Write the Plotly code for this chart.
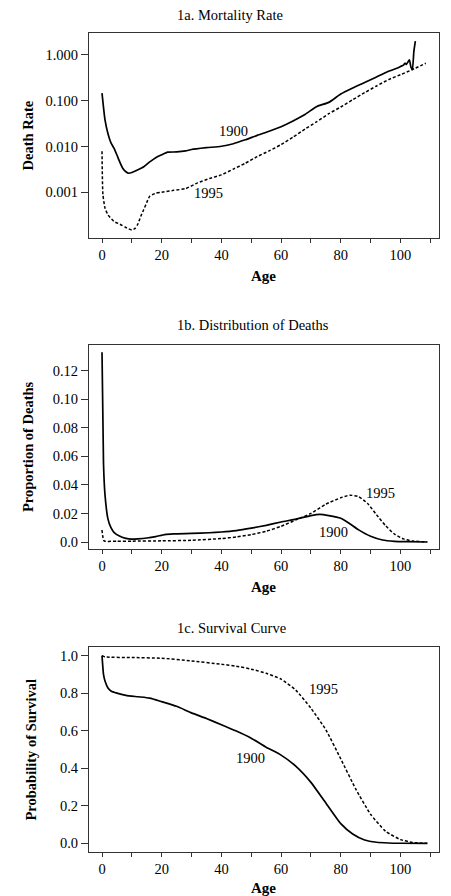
import plotly.graph_objects as go

# ---- 1a. Mortality rate (death rate by age) ----
mort_age_1900 = [0, 1, 2, 3, 4, 5, 6, 7, 8, 9, 10, 12, 14, 16, 18, 20, 22, 25, 28, 30, 35, 40,
                 44, 48, 52, 56, 60, 64, 68, 72, 76, 80, 84, 88, 92, 96, 99, 100, 101, 101.5,
                 102, 102.5, 103, 103.5, 104, 104.5, 105]
mort_rate_1900 = [0.146, 0.038, 0.019, 0.012, 0.0092, 0.0065, 0.0045, 0.0033, 0.0028, 0.0026,
                  0.0027, 0.0031, 0.0036, 0.0046, 0.0057, 0.0066, 0.0075, 0.0076, 0.0080, 0.0086,
                  0.0094, 0.0101, 0.0115, 0.0140, 0.0175, 0.0215, 0.027, 0.036, 0.050, 0.075,
                  0.092, 0.14, 0.19, 0.25, 0.33, 0.44, 0.52, 0.56, 0.60, 0.66, 0.62, 0.70, 0.78,
                  0.55, 0.48, 1.2, 2.0]
mort_age_1995 = [0, 0.3, 1, 2, 4, 6, 8, 10, 11, 12, 13, 14, 15, 16, 18, 20, 24, 28, 32, 36, 40,
                 44, 48, 52, 56, 60, 64, 68, 72, 76, 80, 84, 88, 92, 96, 100, 104, 108.5]
mort_rate_1995 = [0.0079, 0.0009, 0.00045, 0.00032, 0.00023, 0.0002, 0.00017, 0.00015, 0.00016,
                  0.0002, 0.0003, 0.00042, 0.0006, 0.00082, 0.00095, 0.001, 0.0011, 0.0012,
                  0.0016, 0.0020, 0.0024, 0.0032, 0.0043, 0.0060, 0.0080, 0.0110, 0.016, 0.024,
                  0.035, 0.052, 0.073, 0.105, 0.15, 0.21, 0.29, 0.37, 0.48, 0.66]

# ---- 1b. Distribution of deaths ----
dist_age_1900 = [0, 0.5, 1, 2, 3, 4, 6, 8, 10, 12, 15, 18, 21, 24, 30, 36, 40, 45, 50, 55, 60,
                 65, 70, 73, 76, 80, 83, 86, 90, 94, 98, 102, 109]
dist_val_1900 = [0.133, 0.055, 0.033, 0.016, 0.010, 0.0068, 0.004, 0.0025, 0.002, 0.0022, 0.0028,
                 0.0038, 0.0052, 0.0057, 0.0060, 0.0065, 0.0070, 0.0080, 0.0097, 0.0117, 0.0140,
                 0.0160, 0.0185, 0.0193, 0.0185, 0.0166, 0.0128, 0.0085, 0.0040, 0.0014, 0.0005,
                 0.0002, 0.0]
dist_age_1995 = [0, 0.7, 5, 10, 20, 30, 40, 45, 50, 55, 60, 65, 70, 75, 80, 83, 86, 89, 92, 95,
                 98, 101, 104, 109]
dist_val_1995 = [0.0084, 0.0008, 0.0006, 0.0006, 0.0008, 0.0012, 0.0024, 0.0035, 0.0052, 0.0075,
                 0.0110, 0.0155, 0.0200, 0.0265, 0.0310, 0.0328, 0.0318, 0.0270, 0.0190, 0.0115,
                 0.0055, 0.0022, 0.0007, 0.0]

# ---- 1c. Survival curve ----
surv_age_1900 = [0, 0.5, 1, 2, 3, 5, 8, 12, 16, 20, 25, 30, 35, 40, 45, 50, 55, 60, 65, 70, 75,
                 80, 84, 88, 92, 96, 100, 109]
surv_val_1900 = [1.0, 0.90, 0.865, 0.828, 0.812, 0.800, 0.788, 0.781, 0.774, 0.755, 0.73, 0.695,
                 0.665, 0.632, 0.598, 0.56, 0.512, 0.47, 0.41, 0.325, 0.215, 0.105, 0.05, 0.018,
                 0.006, 0.002, 0.0005, 0.0]
surv_age_1995 = [0, 1, 10, 20, 30, 40, 45, 50, 55, 60, 65, 70, 75, 80, 85, 90, 95, 100, 104, 109]
surv_val_1995 = [1.0, 0.993, 0.99, 0.986, 0.972, 0.954, 0.944, 0.928, 0.906, 0.875, 0.815, 0.72,
                 0.605, 0.45, 0.29, 0.155, 0.065, 0.02, 0.005, 0.0]

panel_titles = ["1a. Mortality Rate", "1b. Distribution of Deaths", "1c. Survival Curve"]
y_titles = ["Death Rate", "Proportion of Deaths", "Probability of Survival"]
x_tick_vals = [0, 20, 40, 60, 80, 100]

W, H = 451, 896
FONT = "Liberation Serif, Times New Roman, serif"
FS = 14.5

# panel boxes in pixels: (left, right, top, bottom)
boxes = [(89, 438.5, 33, 238), (89, 438.5, 345, 549), (89, 438.5, 647, 852)]
title_y = [15, 325, 628]
age_y = [276, 587, 888]
ytitle_x = [27, 28, 30]

fig = go.Figure()

solid = dict(color="black", width=1.7, shape="spline", smoothing=0.5)
dashed = dict(color="black", width=1.5, dash="3px,2px", shape="spline", smoothing=0.5)

series = [
    (mort_age_1900, mort_rate_1900, mort_age_1995, mort_rate_1995),
    (dist_age_1900, dist_val_1900, dist_age_1995, dist_val_1995),
    (surv_age_1900, surv_val_1900, surv_age_1995, surv_val_1995),
]
for i, (a0, v0, a1, v1) in enumerate(series):
    sfx = "" if i == 0 else str(i + 1)
    fig.add_trace(go.Scatter(x=a1, y=v1, mode="lines", line=dashed, xaxis="x" + sfx,
                             yaxis="y" + sfx, showlegend=False, hoverinfo="skip"))
    fig.add_trace(go.Scatter(x=a0, y=v0, mode="lines", line=solid, xaxis="x" + sfx,
                             yaxis="y" + sfx, showlegend=False, hoverinfo="skip"))

axis_common = dict(
    showgrid=False, zeroline=False, showline=True, linecolor="#333", linewidth=1,
    mirror=True, ticks="outside", tickcolor="#333", tickfont=dict(family=FONT, size=FS, color="black"),
)
y_specs = [
    dict(type="log", range=[-4.0, 0.48], tickvals=[1, 0.1, 0.01, 0.001],
         ticktext=["1.000", "0.100", "0.010", "0.001"]),
    dict(range=[-0.0049, 0.138], tickvals=[0, 0.02, 0.04, 0.06, 0.08, 0.10, 0.12],
         ticktext=["0.0", "0.02", "0.04", "0.06", "0.08", "0.10", "0.12"]),
    dict(range=[-0.046, 1.046], tickvals=[0, 0.2, 0.4, 0.6, 0.8, 1.0],
         ticktext=["0.0", "0.2", "0.4", "0.6", "0.8", "1.0"]),
]

layout = dict(
    width=W, height=H, margin=dict(l=0, r=0, t=0, b=0),
    paper_bgcolor="white", plot_bgcolor="white", showlegend=False,
    font=dict(family=FONT, size=FS, color="black"),
)
annotations = []
for i, (l, r, t, b) in enumerate(boxes):
    sfx = "" if i == 0 else str(i + 1)
    xname = "xaxis" + sfx
    yname = "yaxis" + sfx
    layout[xname] = dict(axis_common, domain=[l / W, r / W], range=[-4.36, 112.75],
                         tickvals=x_tick_vals, ticklen=4, anchor="y" + sfx,
                         minor=dict(tickvals=[10, 30, 50, 70, 90, 110], ticklen=4,
                                    tickcolor="#333", ticks="outside"))
    layout[yname] = dict(axis_common, domain=[1 - b / H, 1 - t / H], ticklen=7,
                         anchor="x" + sfx, **y_specs[i])
    annotations.append(dict(text=panel_titles[i], xref="paper", yref="paper", x=175 / W,
                            y=1 - title_y[i] / H, xanchor="left", yanchor="middle",
                            showarrow=False, font=dict(family=FONT, size=FS)))
    annotations.append(dict(text="<b>Age</b>", xref="paper", yref="paper",
                            x=(l + r) / 2 / W, y=1 - age_y[i] / H, xanchor="center",
                            yanchor="middle", showarrow=False, font=dict(family=FONT, size=15)))
    annotations.append(dict(text="<b>" + y_titles[i] + "</b>", xref="paper", yref="paper",
                            x=ytitle_x[i] / W, y=1 - (t + b) / 2 / H, textangle=-90,
                            xanchor="center", yanchor="middle", showarrow=False,
                            font=dict(family=FONT, size=FS)))

# series labels placed in data coordinates
series_labels = [
    ("x", "y", 44, -1.66, "1900"), ("x", "y", 35.6, -3.02, "1995"),
    ("x2", "y2", 93.3, 0.0345, "1995"), ("x2", "y2", 77.5, 0.0072, "1900"),
    ("x3", "y3", 74.2, 0.821, "1995"), ("x3", "y3", 49.7, 0.456, "1900"),
]
for xr, yr, xv, yv, txt in series_labels:
    annotations.append(dict(text=txt, xref=xr, yref=yr, x=xv, y=yv, showarrow=False,
                            xanchor="center", yanchor="middle", font=dict(family=FONT, size=FS)))

layout["annotations"] = annotations
fig.update_layout(**layout)
fig.write_html("out.html")
